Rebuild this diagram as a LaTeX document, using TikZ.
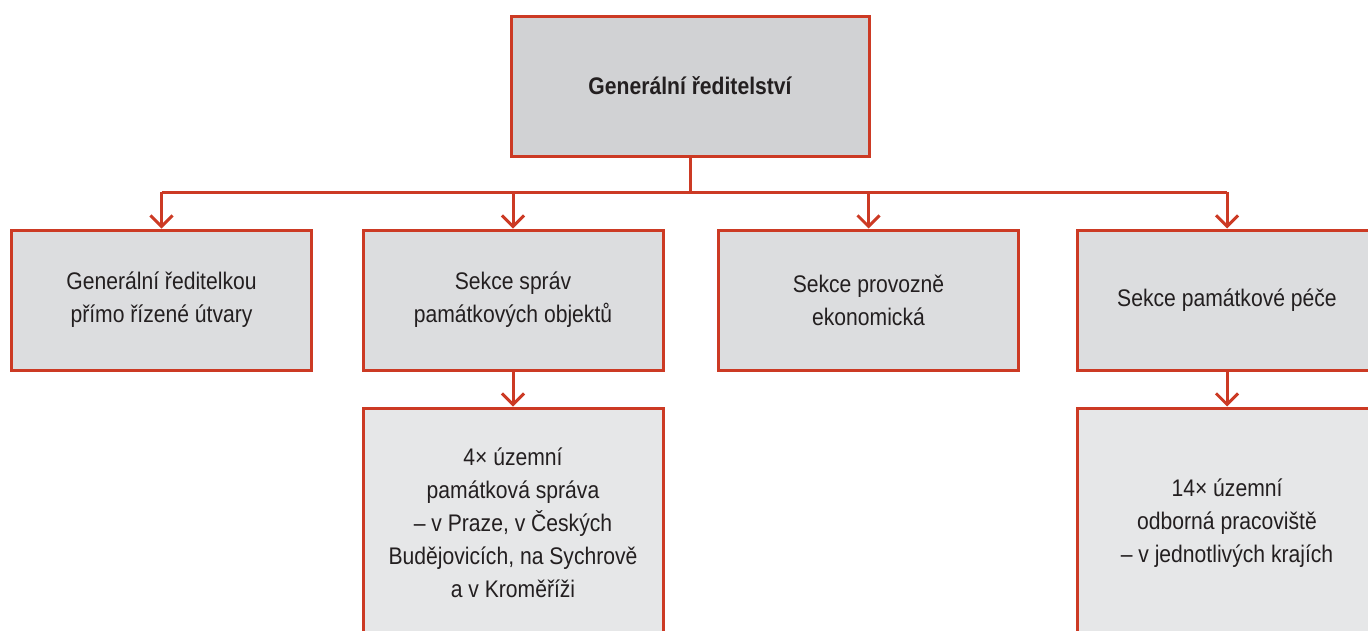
\documentclass[tikz,border=0pt]{standalone}
\usepackage{fontspec}
\setmainfont{Liberation Sans}[FakeStretch=0.88]
\usetikzlibrary{arrows.meta}
\definecolor{orgred}{HTML}{CC3A24}
\definecolor{txtgray}{HTML}{231F20}
\definecolor{fillone}{HTML}{D1D2D4}
\definecolor{filltwo}{HTML}{DCDDDF}
\definecolor{fillthree}{HTML}{E6E7E8}

\begin{document}
\begin{tikzpicture}[x=1pt,y=-1pt,
  box/.style={draw=orgred,line width=3pt,inner sep=0pt,align=center,
    text=txtgray,font=\fontsize{24}{33}\selectfont,
    minimum width=300pt,minimum height=140pt},
  link/.style={draw=orgred,line width=3pt},
  tip/.style={-{Straight Barb[length=11pt,width=22pt]}}]
\useasboundingbox (0,0) rectangle (1368,630);
\clip (0,0) rectangle (1368,630);
% Top of the chart
\node[box,fill=fillone,minimum width=358pt,font=\fontsize{24}{33}\selectfont\bfseries]
  (gr) at (690,86) {Generální ředitelství};
% Second row: the sections
\node[box,fill=filltwo] (utvary) at (161.5,300) {Generální ředitelkou\\přímo řízené útvary};
\node[box,fill=filltwo] (spravy) at (513,300) {Sekce správ\\památkových objektů};
\node[box,fill=filltwo] (provoz) at (868.5,300) {Sekce provozně\\ekonomická};
\node[box,fill=filltwo] (pece) at (1227,300) {Sekce památkové péče};
% Third row
\node[box,fill=fillthree,minimum height=230pt] (ups) at (513,523)
  {4× územní\\památková správa\\– v Praze, v Českých\\Budějovicích, na Sychrově\\a v Kroměříži};
\node[box,fill=fillthree,minimum height=230pt] (uop) at (1227,523)
  {14× územní\\odborná pracoviště\\– v jednotlivých krajích};
% The bus line under the top box
\coordinate (bus) at (690,192);
\draw[link] (gr.south) -- (bus);
\draw[link] (bus -| utvary.north) -- (bus -| pece.north);
\foreach \n in {utvary,spravy,provoz,pece}
  \draw[link,tip] (bus -| \n.north) -- (\n.north);
% Down to the third row
\draw[link,tip] (spravy.south) -- (ups.north);
\draw[link,tip] (pece.south) -- (uop.north);
\end{tikzpicture}
\end{document}
